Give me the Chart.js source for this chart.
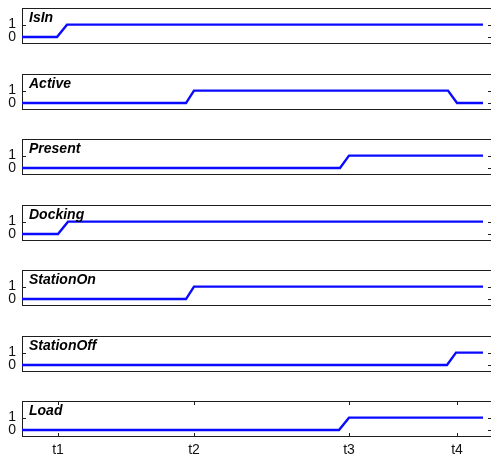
<!DOCTYPE html>
<html><head><meta charset="utf-8">
<script src="https://cdn.jsdelivr.net/npm/chart.js@4"></script>
<style>
html,body{margin:0;padding:0;background:#fff;overflow:hidden;width:491px;height:457px;}
#wrap{position:relative;width:491px;height:457px;overflow:hidden;background:#fff;}
canvas{position:absolute;left:0;}
</style></head><body><div id="wrap"></div>
<script>
// ---- data ----
const signalNames = ['IsIn','Active','Present','Docking','StationOn','StationOff','Load'];
const tickLabels = ['t1','t2','t3','t4'];
const tickTimes = [36, 172, 327, 435];
const yTickValues = [0, 1];

const isInTimes = [0, 35, 45, 461];
const isInValues = [0, 0, 1, 1];
const activeTimes = [0, 164, 172, 426, 435, 461];
const activeValues = [0, 0, 1, 1, 0, 0];
const presentTimes = [0, 318, 327, 461];
const presentValues = [0, 0, 1, 1];
const dockingTimes = [0, 36, 46, 461];
const dockingValues = [0, 0, 1, 1];
const stationOnTimes = [0, 164, 172, 461];
const stationOnValues = [0, 0, 1, 1];
const stationOffTimes = [0, 425, 434, 461];
const stationOffValues = [0, 0, 1, 1];
const loadTimes = [0, 317, 327, 461];
const loadValues = [0, 0, 1, 1];

const signalTimes = [isInTimes, activeTimes, presentTimes, dockingTimes, stationOnTimes, stationOffTimes, loadTimes];
const signalValues = [isInValues, activeValues, presentValues, dockingValues, stationOnValues, stationOffValues, loadValues];

const X_MIN = 0, X_MAX = 470, Y_MIN = -0.56, Y_MAX = 2.34;

// ---- frame plugin: box, inward ticks, panel label ----
const framePlugin = {
  id: 'frame',
  beforeDatasetsDraw(chart, args, opts) {
    const {ctx, chartArea: a, scales: {x, y}} = chart;
    ctx.save();
    ctx.strokeStyle = '#1e1e1e';
    ctx.lineWidth = 1;
    ctx.strokeRect(a.left + 0.5, a.top + 0.5, a.right - a.left - 1, a.bottom - a.top - 1);
    ctx.beginPath();
    for (const v of yTickValues) {
      const py = Math.round(y.getPixelForValue(v)) + 0.5;
      ctx.moveTo(a.left, py); ctx.lineTo(a.left + 4, py);
      ctx.moveTo(a.right - 4, py); ctx.lineTo(a.right, py);
    }
    if (opts.xTicks) {
      for (const t of tickTimes) {
        const px = Math.round(x.getPixelForValue(t)) + 0.5;
        ctx.moveTo(px, a.top); ctx.lineTo(px, a.top + 4);
        ctx.moveTo(px, a.bottom); ctx.lineTo(px, a.bottom - 4);
      }
    }
    ctx.stroke();
    ctx.restore();
  },
  afterDraw(chart, args, opts) {
    const {ctx, chartArea: a} = chart;
    ctx.save();
    ctx.fillStyle = '#000';
    ctx.font = 'italic bold 14px "Liberation Sans", Arial, sans-serif';
    ctx.textBaseline = 'alphabetic';
    ctx.textAlign = 'left';
    ctx.fillText(opts.label, a.left + 7, a.top + 14);
    ctx.restore();
  }
};

const wrap = document.getElementById('wrap');
const tickFont = {family: '"Liberation Sans", Arial, sans-serif', size: 14};

signalNames.forEach((name, i) => {
  const isLast = i === signalNames.length - 1;
  const boxTop = Math.round(8 + 65.5 * i);
  const padTop = 8;
  const h = isLast ? padTop + 36 + 20 : padTop + 36 + 8;
  const cv = document.createElement('canvas');
  cv.width = 493; cv.height = h;
  cv.style.width = '493px'; cv.style.height = h + 'px';
  cv.style.top = (boxTop - padTop) + 'px';
  wrap.appendChild(cv);

  const pts = signalTimes[i].map((t, k) => ({x: t, y: signalValues[i][k]}));

  new Chart(cv, {
    type: 'line',
    data: {datasets: [{
      data: pts,
      borderColor: '#0a0aff',
      borderWidth: 2.4,
      pointRadius: 0,
      tension: 0,
      fill: false
    }]},
    options: {
      responsive: false,
      animation: false,
      devicePixelRatio: 1,
      events: [],
      layout: {padding: {top: padTop, bottom: isLast ? 0 : 8, left: 0, right: 1}},
      plugins: {
        legend: {display: false},
        tooltip: {enabled: false},
        frame: {label: name, xTicks: isLast}
      },
      scales: {
        x: {
          type: 'linear', min: X_MIN, max: X_MAX,
          display: isLast,
          position: 'bottom',
          grid: {display: false, drawTicks: false},
          border: {display: false},
          afterBuildTicks: s => { s.ticks = tickTimes.map(v => ({value: v})); },
          ticks: {
            autoSkip: false, maxRotation: 0, padding: 5,
            font: tickFont, color: '#111',
            callback: (v) => { const k = tickTimes.indexOf(v); return k >= 0 ? tickLabels[k] : ''; }
          },
          afterFit: s => { s.height = isLast ? 20 : 0; s.paddingLeft = 0; s.paddingRight = 0; }
        },
        y: {
          type: 'linear', min: Y_MIN, max: Y_MAX,
          position: 'left',
          grid: {display: false, drawTicks: false},
          border: {display: false},
          afterBuildTicks: s => { s.ticks = yTickValues.map(v => ({value: v})); },
          ticks: {autoSkip: false, padding: 6, font: tickFont, color: '#111'},
          afterFit: s => { s.width = 22; s.paddingTop = 0; s.paddingBottom = 0; }
        }
      }
    },
    plugins: [framePlugin]
  });
});
</script>
</body></html>
